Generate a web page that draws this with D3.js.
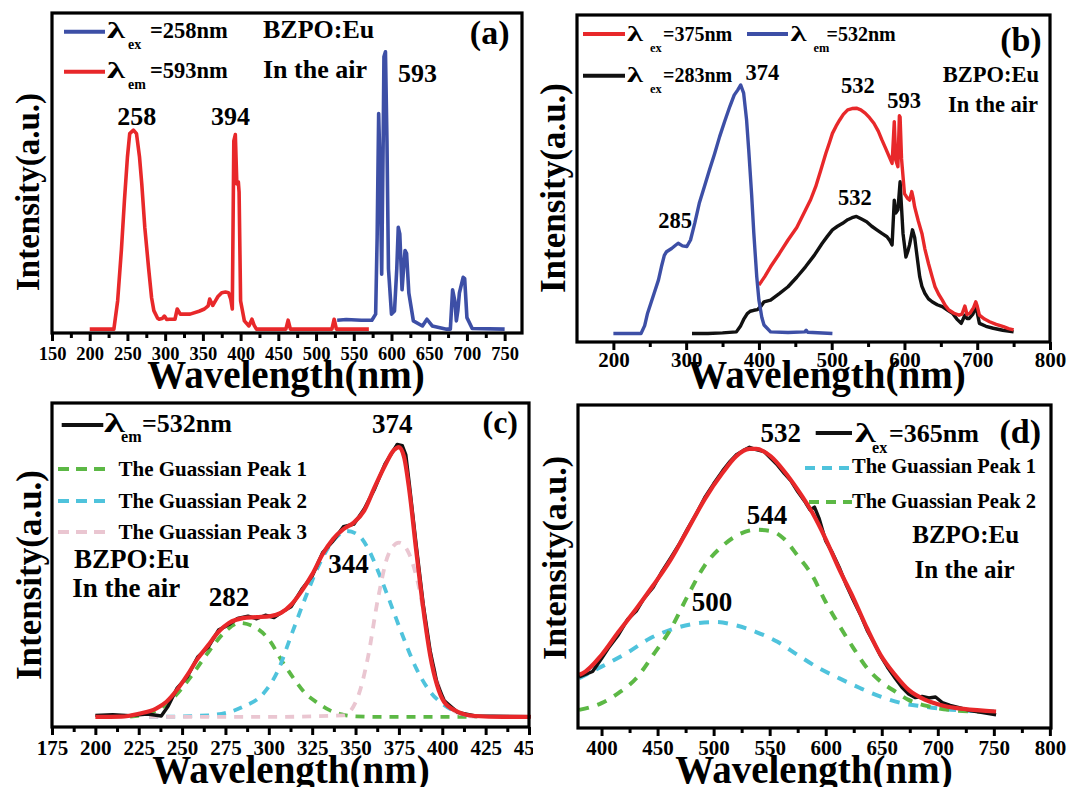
<!DOCTYPE html>
<html>
<head>
<meta charset="utf-8">
<script src="https://cdn.jsdelivr.net/npm/d3@7"></script>
<style>
  body { margin: 0; background: #fff; }
  text { font-family: "Liberation Serif", "Times New Roman", serif; font-weight: bold; fill: #000; }
</style>
</head>
<body>
<div id="chart"></div>
<script>
// BZPO:Eu excitation / emission spectra, 4 panels
// values: [wavelength nm, intensity a.u. (0-100 of panel height)]

// (a)
const aExcitation593 = [[200,1.2],[232,1.2],[237,10],[242,26],[246,41.4],[250,55],[253,62.3],[258,63.4],[262,62.3],[266,55],[269,46.6],[273,33],[278,20.4],[282,11],[285,7],[290,4.6],[292,4.3],[296,4.5],[299,5.3],[302,4.2],[306,4.3],[313,4.3],[316,7.5],[320,5.9],[333,5.9],[345,6.8],[352,7.5],[357,8.5],[359,10.6],[363,8.6],[367,10.2],[370,11.4],[375,12.6],[380,12.8],[384,12.6],[387,10.5],[389,7.5],[391,60],[393,62],[395,46.6],[397,47.2],[398,44],[400,10],[405,3.8],[411,2.2],[415,4.3],[418,2.4],[421,1.2],[460,1.2],[463,4],[466,1.2],[521,1.2],[524,4.3],[527,1.2],[570,1.2]];
const aEmission258 = [[528,4],[540,4.2],[560,4],[574,4],[579,5.9],[581,30],[583,68.6],[585,50],[587,18.4],[589,60],[590,86.3],[592,87.9],[594,60],[596,20],[600,5.9],[604,6.9],[607,20],[609,33],[611,31],[614,13.5],[616,20],[618,25.8],[620,24.8],[623,12.5],[629,3.8],[641,2.2],[647,4.3],[654,2.2],[673,1.2],[678,1.2],[681,13.5],[684,10],[686,3.8],[688,7],[690,12.5],[695,17.4],[697,17],[700,4.8],[707,1.4],[750,1.2]];

// (b)
const bExcitation532 = [[200,2.6],[220,2.6],[238,2.6],[243,5],[247,8.8],[256,14.9],[262,19],[266,23],[270,26.5],[273,27.6],[280,28.6],[285,29.5],[289,30.2],[295,29.4],[301,29.2],[306,31.2],[312,36.5],[318,42.4],[325,47.5],[332,52.6],[339,57.5],[346,62.8],[353,67.5],[360,72],[366,75.5],[371,77.1],[375,78.6],[379,76.1],[383,68],[386,58.7],[390,45],[393,33.2],[397,20],[400,12.8],[404,7.5],[407,5.2],[416,3.1],[440,2.9],[463,3.1],[465,3.6],[467,3],[501,2.6]];
const bEmission375 = [[400,17.4],[408,20],[416,23],[428,27],[440,31.2],[452,35],[464,40.4],[471,43.5],[478,47.5],[485,52.5],[492,57.7],[497,61],[501,63.8],[506,66],[511,67.9],[516,69.6],[522,71],[528,71.4],[534,71.5],[540,71],[546,70],[552,68.6],[558,66.9],[564,64.5],[569,61.8],[574,59.3],[579,56.7],[583,54.6],[586,67.4],[588,55.7],[591,53.6],[593,69.2],[594,68.8],[596,56],[600,45.4],[604,44],[607,43.4],[610,46],[612,44],[614,41.3],[619,37],[624,33.2],[628,28.5],[633,24],[638,20],[642,16.9],[647,14.6],[652,12.8],[656,11.2],[661,9.8],[668,8.8],[675,8.2],[679,8.5],[683,11],[686,8.4],[690,8.8],[695,10.5],[698,12.3],[700,11],[703,8.2],[710,7],[717,6.2],[726,5.4],[736,4.7],[743,4.1],[750,3.7]];
const bEmission283 = [[308,2.6],[330,2.6],[350,2.8],[369,3.1],[375,5],[379,6.9],[384,8.7],[388,9.4],[393,9.7],[398,9.9],[403,11],[407,12.3],[412,12.6],[416,12.8],[428,14.8],[440,16.9],[452,19.8],[464,23],[476,26.5],[487,30.2],[494,32.3],[501,34.3],[508,35.4],[515,36.3],[522,37.4],[528,38],[534,38.4],[541,37.6],[548,36.8],[555,35.4],[562,34.3],[569,33.2],[576,32.2],[580,31],[583,29.7],[586,43.4],[588,39.4],[591,40.4],[594,49],[596,41],[598,33.2],[602,26],[605,28],[607,29.7],[611,34.3],[614,32],[618,25],[621,19.9],[624,17],[628,14.9],[633,13.2],[638,12.3],[645,11.4],[652,10.8],[659,9.8],[666,8.8],[672,7],[678,5.7],[683,8.2],[686,7.2],[689,7.2],[694,8.5],[698,10.8],[700,9],[703,5.7],[712,4.8],[722,4.2],[735,3.6],[750,3.1]];

// (c)
const cMeasured = [[200,3.6],[210,3.8],[220,3.5],[230,4.0],[238,3.4],[242,6.5],[247,11.9],[253,15.5],[259,21.6],[265,24.6],[271,29.9],[277,31.6],[282,33.5],[288,34.2],[293,33.4],[298,34.5],[303,33.8],[308,35.6],[313,37.2],[319,42.5],[325,46.6],[331,53.8],[337,57.4],[343,61.8],[349,62.6],[355,67.3],[361,73.5],[367,81.2],[371,84.6],[374,87.2],[377,86.8],[379,84],[381,75],[385,56],[389,38],[393,23.5],[397,13.5],[401,8.2],[409,4.5],[419,3.4],[451,3.2]];
const cFit = [[200,3.1],[215,3.2],[225,4.1],[235,5.7],[241,7.8],[247,11.4],[253,16],[259,21.1],[265,25.2],[271,29.4],[277,32.1],[285,33.6],[293,33.9],[301,34.2],[307,35.2],[313,37.8],[319,42],[325,47.1],[331,53.3],[337,58],[343,61.1],[349,63.1],[355,66.8],[361,74],[367,80.7],[372,85.4],[375,86.4],[378,83.3],[381,73],[385,54.3],[389,36.7],[393,22.2],[397,12.9],[401,7.8],[409,4.7],[419,3.4],[435,3.1],[451,3.1]];
const cPeak1 = [[220,3.2],[235,5],[245,9],[255,15.5],[265,23],[275,29.5],[283,32.1],[293,30.5],[300,27],[308,20],[315,14.5],[321,10.4],[328,7.5],[335,5.2],[342,3.9],[350,3.3],[365,3.1],[420,3.1]];
const cPeak2 = [[231,3.1],[265,3.6],[285,6.2],[297,10.4],[305,17.1],[313,28.4],[321,39.8],[329,50.1],[337,57.4],[345,60.5],[351,59.5],[357,55.3],[363,48.1],[369,39.8],[377,28.4],[385,18.1],[393,10.9],[401,6.8],[411,4.1],[419,3.1]];
const cPeak3 = [[231,3.1],[300,3.1],[343,3.6],[351,8.8],[357,21.1],[363,39.8],[369,53.3],[375,56.9],[381,53.3],[387,42],[393,23.3],[399,10.9],[405,5.7],[415,3.4],[421,3.1]];

// (d)
const dMeasured = [[380,15.8],[385,16.5],[392,17.5],[400,21.5],[406,24.7],[415,28.8],[423,33.5],[431,36.2],[438,40.2],[446,43.5],[454,48.5],[462,52.8],[470,57.3],[477,61.8],[485,66.6],[492,71.3],[500,75.6],[508,79.6],[514,82.3],[520,84.5],[526,85.8],[532,86.9],[538,86.2],[545,85.6],[551,83.5],[557,81.4],[563,78.8],[569,76.5],[575,73.2],[582,69.8],[586,67.5],[590,68.4],[594,65.0],[600,57.9],[606,54.2],[612,49.8],[618,44.6],[625,39.3],[631,35.1],[637,30.2],[643,26.4],[649,22.3],[655,18.9],[662,15.4],[668,12.6],[674,10.5],[680,9.4],[686,9.8],[692,9.3],[698,9.6],[704,7.9],[711,7.0],[720,6.2],[730,5.3],[740,4.8],[752,4.1]];
const dFit = [[380,16.5],[383,16.9],[400,22.6],[415,29.7],[431,36.9],[446,44.1],[462,52.3],[477,61.5],[492,70.8],[508,79],[520,84.1],[532,86.4],[538,86.4],[551,84.1],[563,79.5],[575,73.8],[588,66.7],[600,58.5],[612,49.2],[625,40],[637,30.8],[649,22.6],[662,16.4],[674,11.8],[689,8.7],[705,6.9],[723,5.9],[752,5.1]];
const dPeak1 = [[380,15.4],[400,19],[422,23.1],[443,27.7],[465,30.8],[483,32.3],[502,32.8],[520,31.8],[538,29.7],[557,26.7],[575,22.6],[594,18.5],[612,15.4],[631,12.3],[649,9.7],[668,7.7],[686,6.7],[705,5.9],[729,5.3],[751,5.1]];
const dPeak2 = [[380,5.6],[400,7.7],[415,10.8],[431,15.4],[446,22.6],[462,30.8],[477,41],[492,50.3],[508,56.4],[523,60],[538,61.4],[551,61],[563,58.5],[575,53.3],[588,47.2],[600,39],[612,31.8],[625,24.6],[637,18.5],[649,14.4],[662,11.3],[674,8.7],[692,6.7],[711,5.6],[735,5.1],[751,5]];

// tick labels
const aTicks = [150, 200, 250, 300, 350, 400, 450, 500, 550, 600, 650, 700, 750];
const bTicks = [200, 300, 400, 500, 600, 700, 800];
const cTicks = [175, 200, 225, 250, 275, 300, 325, 350, 375, 400, 425, 450];
const dTicks = [400, 450, 500, 550, 600, 650, 700, 750, 800];

// peak labels [nm, intensity, text]
const aPeakLabels = [[262.5, 64.9, "258"], [386.5, 64.9, "394"], [634.4, 78.4, "593"]];
const bPeakLabels = [[404.7, 80.1, "374"], [536, 76.1, "532"], [599.6, 71.6, "593"], [531.8, 41.9, "532"], [284.7, 34.9, "285"]];
const cPeakLabels = [[371.2, 90.7, "374"], [277, 37.3, "282"], [346, 47.5, "344"]];
const dPeakLabels = [[560, 88.6, "532"], [547.7, 63.1, "544"], [498.5, 36.3, "500"]];

const sample = "BZPO:Eu", atmosphere = "In the air";
const gaussNames = ["The Guassian Peak 1", "The Guassian Peak 2", "The Guassian Peak 3"];

// colours
const RED = "#e8282a", BLUE = "#3d4fa6", BLACK = "#111",
      GREEN = "#5cb845", CYAN = "#4fc3dc", PINK = "#eac6d1";

const width = 1069, height = 787;

const svg = d3.select("#chart")
  .append("svg")
  .attr("width", width)
  .attr("height", height);

svg.append("rect").attr("width", width).attr("height", height).attr("fill", "#fff");

// panel layout
const panels = [
  { frame: { x0: 52, x1: 522, y0: 13, y1: 333 }, domain: [150, 773], ticks: aTicks, tickFont: 18.5, tickBase: 360,
    title: [286, 388], ylab: [27.5, 192], ylabFont: 33, peaks: aPeakLabels, peakFont: 26,
    series: [
      { data: aExcitation593, color: RED, w: 3.6 },
      { data: aEmission258, color: BLUE, w: 3.6 }
    ] },
  { frame: { x0: 577, x1: 1050, y0: 15, y1: 342 }, domain: [150, 800], ticks: bTicks, tickFont: 21, tickBase: 367,
    title: [827, 388], ylab: [552.5, 188], ylabFont: 35, peaks: bPeakLabels, peakFont: 22.5,
    series: [
      { data: bEmission283, color: BLACK, w: 3.4 },
      { data: bEmission375, color: RED, w: 3.4 },
      { data: bExcitation532, color: BLUE, w: 3.4 }
    ] },
  { frame: { x0: 52, x1: 529, y0: 403, y1: 727 }, domain: [175, 450], ticks: cTicks, tickFont: 21, tickBase: 755,
    title: [291, 783], ylab: [28.4, 575], ylabFont: 35, peaks: cPeakLabels, peakFont: 27, clipRight: 533,
    series: [
      { data: cPeak1, color: GREEN, w: 3.8, dash: "9,8", smooth: true },
      { data: cPeak2, color: CYAN, w: 3.8, dash: "9,8", smooth: true },
      { data: cPeak3, color: PINK, w: 3.8, dash: "9,8", smooth: true },
      { data: cMeasured, color: BLACK, w: 3.4 },
      { data: cFit, color: RED, w: 4.2, smooth: true }
    ] },
  { frame: { x0: 578, x1: 1051, y0: 405, y1: 728 }, domain: [379, 801], ticks: dTicks, tickFont: 21, tickBase: 755,
    title: [814, 783], ylab: [554, 558], ylabFont: 34, peaks: dPeakLabels, peakFont: 27,
    series: [
      { data: dPeak1, color: CYAN, w: 4, dash: "10,9", smooth: true },
      { data: dPeak2, color: GREEN, w: 4, dash: "10,9", smooth: true },
      { data: dMeasured, color: BLACK, w: 3.4 },
      { data: dFit, color: RED, w: 4.2, smooth: true }
    ] }
];

// helpers for the text bits
function label(g, x, y, txt, size, anchor) {
  return g.append("text")
    .attr("x", x).attr("y", y)
    .attr("font-size", size)
    .attr("text-anchor", anchor || "start")
    .text(txt);
}

// λ with a subscript, e.g. λex=258nm (the original λ is wide, so stretch it)
function lambdaLabel(g, x, y, sub, rest, size, subDx, restDx, subDy) {
  g.append("text")
    .attr("transform", `translate(${x},${y}) scale(1.55,1)`)
    .attr("font-size", size * 1.05)
    .text("λ");
  label(g, x + subDx, y + subDy, sub, size * 0.62);
  label(g, x + restDx, y, rest, size);
}

function legendLine(g, x0, x1, y, color, dash, w) {
  g.append("line")
    .attr("x1", x0).attr("x2", x1).attr("y1", y).attr("y2", y)
    .attr("stroke", color)
    .attr("stroke-width", w || 4)
    .attr("stroke-dasharray", dash || null);
}

function drawPanel(p) {
  const f = p.frame;
  const g = svg.append("g");

  if (p.clipRight) {
    svg.append("clipPath").attr("id", "clipc")
      .append("rect").attr("x", 0).attr("y", 390).attr("width", p.clipRight).attr("height", 397);
    g.attr("clip-path", "url(#clipc)");
  }

  const x = d3.scaleLinear().domain(p.domain).range([f.x0, f.x1]);
  const y = d3.scaleLinear().domain([0, 100]).range([f.y1, f.y0]);

  // minor ticks halfway between the labelled ones
  const minor = d3.pairs(p.ticks).map(([a, b]) => (a + b) / 2);
  g.append("g")
    .attr("transform", `translate(0,${f.y1})`)
    .call(d3.axisBottom(x).tickValues(minor).tickSize(5).tickFormat(""))
    .call(ax => ax.select(".domain").remove())
    .call(ax => ax.selectAll("line").attr("stroke", "#000").attr("stroke-width", 3));

  g.append("g")
    .attr("transform", `translate(0,${f.y1})`)
    .call(d3.axisBottom(x).tickValues(p.ticks).tickSize(8).tickFormat(d3.format("d")))
    .call(ax => ax.select(".domain").remove())
    .call(ax => ax.selectAll("line").attr("stroke", "#000").attr("stroke-width", 3))
    .call(ax => ax.selectAll("text")
      .attr("y", p.tickBase - f.y1)
      .attr("dy", null)
      .attr("font-size", p.tickFont)
      .attr("fill", "#000"));

  // spectra
  p.series.forEach(s => {
    const line = d3.line()
      .x(d => x(d[0]))
      .y(d => y(d[1]))
      .curve(s.smooth ? d3.curveMonotoneX : d3.curveLinear);
    g.append("path")
      .datum(s.data)
      .attr("d", line)
      .attr("fill", "none")
      .attr("stroke", s.color)
      .attr("stroke-width", s.w)
      .attr("stroke-linejoin", "round")
      .attr("stroke-dasharray", s.dash || null);
  });

  // frame
  g.append("rect")
    .attr("x", f.x0).attr("y", f.y0)
    .attr("width", f.x1 - f.x0).attr("height", f.y1 - f.y0)
    .attr("fill", "none")
    .attr("stroke", "#000")
    .attr("stroke-width", 3.2);

  // peak positions
  p.peaks.forEach(d => label(g, x(d[0]), y(d[1]), d[2], p.peakFont, "middle"));

  // axis titles
  label(g, p.title[0], p.title[1], "Wavelength(nm)", 39, "middle");
  g.append("text")
    .attr("transform", `translate(${p.ylab[0]},${p.ylab[1]}) rotate(-90)`)
    .attr("text-anchor", "middle")
    .attr("dy", "0.35em")
    .attr("font-size", p.ylabFont)
    .text("Intensity(a.u.)");

  return g;
}

const [ga, gb, gc, gd] = panels.map(drawPanel);

// (a) legend and notes
legendLine(ga, 64, 105, 31.7, BLUE);
lambdaLabel(ga, 107, 38, "ex", "=258nm", 22.5, 21, 43, 11);
legendLine(ga, 64, 105, 71.7, RED);
lambdaLabel(ga, 107, 78, "em", "=593nm", 22.5, 21, 43, 11);
label(ga, 263, 38, sample, 26);
label(ga, 263, 78, atmosphere, 26);
label(ga, 509.5, 44, "(a)", 34, "end");

// (b)
legendLine(gb, 583, 625, 34, RED);
lambdaLabel(gb, 627, 41, "ex", "=375nm", 20, 23, 36, 11);
legendLine(gb, 747, 788, 34, BLUE);
lambdaLabel(gb, 790.6, 41, "em", "=532nm", 20, 23, 36, 11);
legendLine(gb, 583, 625, 75.7, BLACK);
lambdaLabel(gb, 627, 81.5, "ex", "=283nm", 20, 23, 36, 11);
label(gb, 1041.7, 51, "(b)", 34, "end");
label(gb, 991, 82, sample, 22.5, "middle");
label(gb, 993, 112, atmosphere, 22.5, "middle");

// (c)
legendLine(gc, 61.7, 103.3, 425, BLACK);
lambdaLabel(gc, 104, 431.7, "em", "=532nm", 26, 17, 38, 10);
[GREEN, CYAN, PINK].forEach((c, i) => {
  const yy = [469, 501, 532][i];
  legendLine(gc, 58, 107, yy, c, "11,7", 3.8);
  label(gc, 118.5, yy + 7, gaussNames[i], 21);
});
label(gc, 74, 568, sample, 27);
label(gc, 72.3, 597, atmosphere, 27);
label(gc, 518, 433, "(c)", 32, "end");

// (d)
legendLine(gd, 815.7, 852, 433, BLACK);
lambdaLabel(gd, 855, 442, "ex", "=365nm", 26, 17, 34, 11);
label(gd, 1041, 443, "(d)", 34, "end");
legendLine(gd, 805, 852, 468, CYAN, "10,7", 3.8);
label(gd, 852, 473, gaussNames[0], 20.5);
legendLine(gd, 809, 852, 502, GREEN, "10,7", 3.8);
label(gd, 852, 508, gaussNames[1], 20.5);
label(gd, 965.7, 543, sample, 25, "middle");
label(gd, 964.6, 578, atmosphere, 25, "middle");
</script>
</body>
</html>
